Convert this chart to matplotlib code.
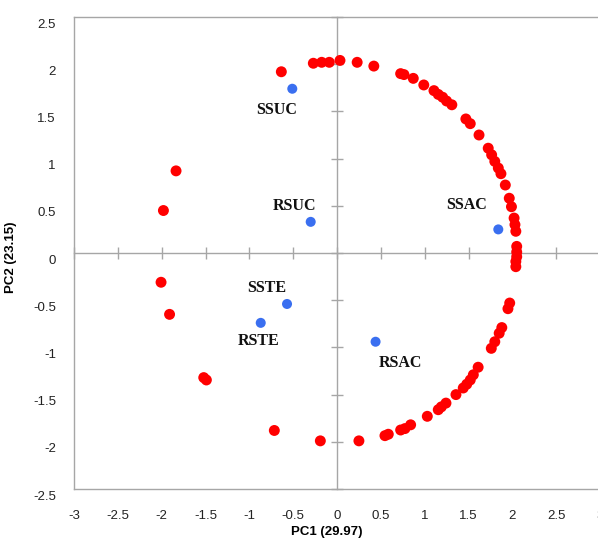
import numpy as np
import matplotlib
matplotlib.use("Agg")
import matplotlib.pyplot as plt
import matplotlib.transforms as mtransforms

# -----------------------------
# data
# -----------------------------
# red points: variable loadings (roughly on a circle)
red_pc1 = [-0.635, -0.27, -0.175, -0.088, 0.034, 0.23, 0.42, 0.726, 0.764, 0.87,
           0.99, 1.106, 1.155, 1.205, 1.25, 1.31, 1.47, 1.52, 1.62, 1.725,
           1.764, 1.80, 1.84, 1.87, 1.92, 1.965, 1.99, 2.02, 2.03, 2.04,
           2.05, 2.05, 2.05, 2.04, 2.04,
           1.97, 1.95, 1.88, 1.85, 1.80, 1.76, 1.61, 1.555, 1.52, 1.48,
           1.44, 1.357, 1.243, 1.19, 1.155, 1.03, 0.84, 0.775, 0.726, 0.585,
           0.547, 0.25, -0.19, -0.715,
           -1.836, -1.98, -2.007, -1.91, -1.52, -1.49]
red_pc2 = [1.92, 2.01, 2.02, 2.02, 2.04, 2.02, 1.98, 1.90, 1.89, 1.85,
           1.78, 1.72, 1.68, 1.65, 1.61, 1.57, 1.42, 1.37, 1.25, 1.11,
           1.04, 0.97, 0.90, 0.84, 0.72, 0.58, 0.49, 0.37, 0.30, 0.23,
           0.07, 0.01, -0.04, -0.09, -0.145,
           -0.53, -0.59, -0.79, -0.85, -0.94, -1.01, -1.21, -1.29, -1.345, -1.39,
           -1.43, -1.50, -1.59, -1.63, -1.66, -1.73, -1.82, -1.86, -1.875, -1.92,
           -1.935, -1.99, -1.99, -1.88,
           0.87, 0.45, -0.31, -0.65, -1.32, -1.345]

# blue points: treatments
groups = ["SSUC", "RSUC", "SSAC", "SSTE", "RSTE", "RSAC"]
grp_pc1 = [-0.51, -0.30, 1.84, -0.57, -0.87, 0.44]
grp_pc2 = [1.74, 0.33, 0.25, -0.54, -0.74, -0.94]

# where each label sits relative to its point (data units)
label_dx = [-0.18, -0.19, -0.36, -0.23, -0.02, 0.28]
label_dy = [-0.23, 0.17, 0.26, 0.17, -0.19, -0.23]

xticks = np.arange(-3, 3.01, 0.5)
yticks = np.arange(-2.5, 2.51, 0.5)
xtick_text = ["%g" % t for t in xticks]
ytick_text = ["%g" % t for t in yticks]

GRAY = "#a6a6a6"

# -----------------------------
# figure
# -----------------------------
W, H = 598, 543
fig = plt.figure(figsize=(W / 100, H / 100), dpi=100)
rect = [74 / W, (H - 489) / H, 526 / W, 472 / H]
ax = fig.add_axes(rect)

for sp in ax.spines.values():
    sp.set_color(GRAY)
    sp.set_linewidth(1.0)

ax.set_xticks(xticks)
ax.set_xticklabels(xtick_text)
ax.set_yticks(yticks)
ax.set_yticklabels(ytick_text)
ax.set_xlim(-3, 3)
ax.set_ylim(-2.5, 2.5)
ax.tick_params(axis="both", length=0, labelsize=9.5, colors="#222222")
ax.tick_params(axis="x", pad=15)
ax.tick_params(axis="y", pad=13)
for lab in ax.get_xticklabels() + ax.get_yticklabels():
    lab.set_fontfamily("Liberation Sans")
# y labels in the original sit a little below their ticks
shift = mtransforms.ScaledTranslation(0, -6 / 100, fig.dpi_scale_trans)
for lab in ax.get_yticklabels():
    lab.set_transform(lab.get_transform() + shift)

ax.set_xlabel("PC1 (29.97)", fontsize=9.5, fontweight="bold",
              fontfamily="Liberation Sans")
ax.set_ylabel("PC2 (23.15)", fontsize=9.5, fontweight="bold",
              fontfamily="Liberation Sans")
ax.xaxis.set_label_coords(0.48, -0.078)
ax.yaxis.set_label_coords(-0.108, 0.49)

# overlay axes carrying the crossing axis lines through the origin
ax2 = fig.add_axes(rect)
ax2.patch.set_alpha(0)
ax2.spines["top"].set_visible(False)
ax2.spines["right"].set_visible(False)
ax2.spines["left"].set_position(("data", 0))
ax2.spines["bottom"].set_position(("data", 0))
for k in ("left", "bottom"):
    ax2.spines[k].set_color(GRAY)
    ax2.spines[k].set_linewidth(1.0)
ax2.set_xticks(xticks)
ax2.set_yticks(yticks)
ax2.set_xlim(-3, 3)
ax2.set_ylim(-2.5, 2.5)
ax2.tick_params(axis="both", direction="inout", length=8, width=1.0,
                color=GRAY, labelleft=False, labelbottom=False)

ax2.scatter(red_pc1, red_pc2, s=62, color="#ff0000", edgecolors="none",
            zorder=3, clip_on=False)
ax2.scatter(grp_pc1, grp_pc2, s=52, color="#3a6ff0", edgecolors="none", zorder=4)
for name, x, y, dx, dy in zip(groups, grp_pc1, grp_pc2, label_dx, label_dy):
    ax2.text(x + dx, y + dy, name, ha="center", va="center", fontsize=11.5,
             fontweight="bold", fontfamily="Liberation Serif", color="#111111")

fig.savefig("out.png", dpi=100)
